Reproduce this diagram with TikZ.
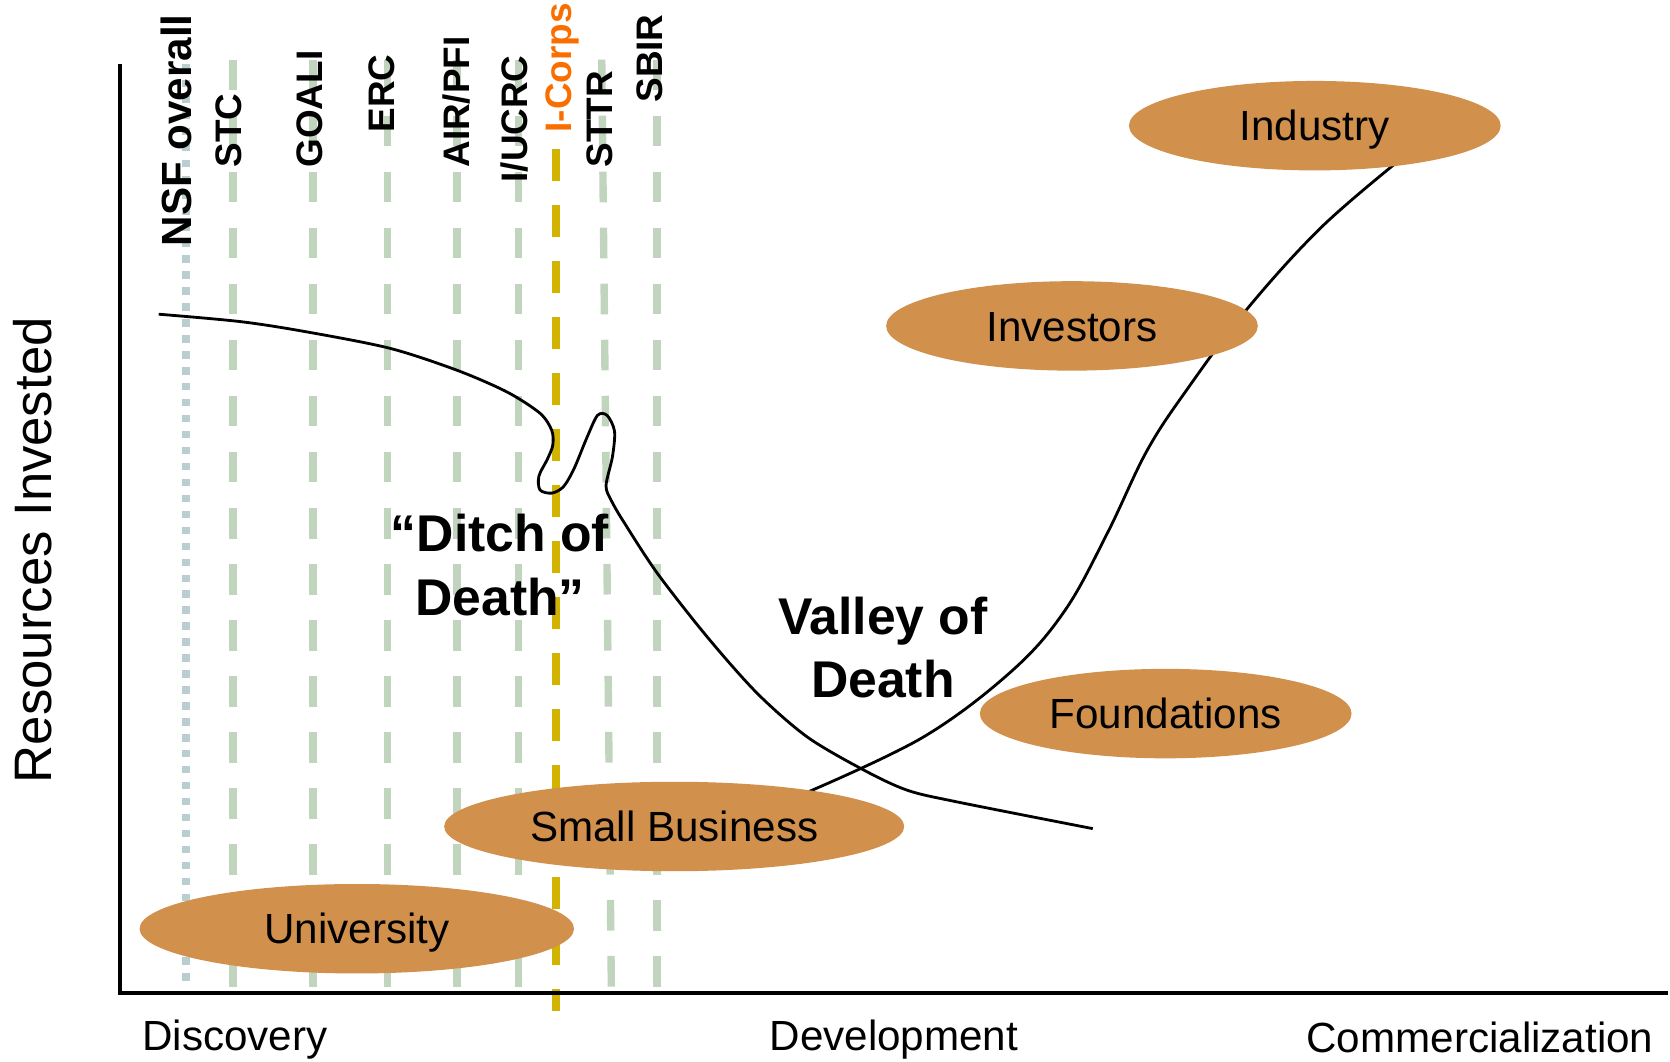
\documentclass[tikz,border=0pt]{standalone}
\usepackage{fontspec}
\setmainfont{Liberation Sans}
\usetikzlibrary{shapes.geometric}
\definecolor{ochre}{RGB}{209,145,76}
\definecolor{sage}{RGB}{192,212,190}
\definecolor{mist}{RGB}{185,206,208}
\definecolor{mustard}{RGB}{210,180,0}
\definecolor{icorps}{RGB}{250,110,0}
\begin{document}
\begin{tikzpicture}[x=0.0106505cm, y=-0.0106505cm,
  axisline/.style={line width=1.15pt, line join=miter},
  guide/.style={draw=sage, line width=2.1pt, dash pattern=on 8.73pt off 7.21pt},
  nsfguide/.style={draw=mist, line width=2.2pt, dash pattern=on 2.12pt off 2.42pt},
  icguide/.style={draw=mustard, line width=2.3pt, dash pattern=on 9.09pt off 6.85pt},
  prog/.style={rotate=90, anchor=base west, inner sep=0pt, font=\fontsize{10.5}{12}\selectfont\bfseries},
  blob/.style={ellipse, fill=ochre, minimum height=0.8946cm, inner sep=0pt, text height=8.6pt, text depth=0pt, font=\fontsize{12}{14}\selectfont},
  stage/.style={anchor=base west, inner sep=0pt, font=\fontsize{12}{14}\selectfont},
  death/.style={align=center, anchor=base, inner sep=0pt, font=\fontsize{14.7}{18.1}\selectfont\bfseries},
  curve/.style={line width=0.8pt, black}
]
\useasboundingbox (0,0) rectangle (1568,996.2);

% guide lines
\draw[nsfguide] (174.4,60) -- (174.4,928);
\draw[guide] (218.6,56) -- (218.6,927);
\draw[guide] (294,56) -- (294,927);
\draw[guide] (364,56) -- (364,927);
\draw[guide] (429,56) -- (429,927);
\draw[guide] (487,56) -- (487,927);
\draw[guide] (565,56) -- (574,927);
\draw[guide] (617,56) -- (617,927);
\draw[icguide] (522.4,140) -- (522.4,949);

% axes
\coordinate (ytop) at (113,60);
\coordinate (origin) at (113,932);
\coordinate (xend) at (1566,932);
\draw[axisline] (ytop) -- (origin) -- (xend);

% S-curve (behind ellipses)
\coordinate (s0) at (760,743);
\coordinate (s1) at (1312,152);
\draw[curve] plot[smooth, tension=0.6] coordinates {(s0) (867,692) (950,630) (1000,573) (1040,500) (1077,423) (1115,365) (1171,290) (1240,214) (s1)};

% ellipses
\node[blob, minimum width=3.717cm] (industry) at (1234.5,118) {Industry};
\node[blob, minimum width=3.717cm] (investors) at (1006.5,306) {Investors};
\node[blob, minimum width=3.717cm] (foundations) at (1094.5,670) {Foundations};
\node[blob, minimum width=4.601cm] (smallbiz) at (633,776) {Small Business};
\node[blob, minimum width=4.345cm] (university) at (335,872) {University};

% program labels
\node[prog, font=\fontsize{12}{14}\selectfont\bfseries] (nsf) at (180,232) {NSF overall};
\node[prog] (stc) at (226.4,158) {STC};
\node[prog] (goali) at (302.4,158) {GOALI};
\node[prog] (erc) at (370.4,125) {ERC};
\node[prog] (air) at (440.4,158) {AIR/PFI};
\node[prog] (iucrc) at (495.4,172) {I/UCRC};
\node[prog, text=icorps] (icorps) at (536.4,125) {I-Corps};
\node[prog] (sttr) at (575.4,158) {STTR};
\node[prog] (sbir) at (622.4,97) {SBIR};

% axis labels
\node[rotate=90, anchor=base west, inner sep=0pt, font=\fontsize{15}{17}\selectfont] (yl) at (48.6,736) {Resources Invested};
\node[stage] (disc) at (133,986.5) {Discovery};
\node[stage] (dev) at (722,986.5) {Development};
\node[stage] (comm) at (1226,988) {Commercialization};

% death labels
\node[death] (ditch) at (469.5,578) {“Ditch of\\Death”};
\node[death] (valley) at (829,655) {Valley of\\Death};

% declining curve with ditch
\coordinate (c0) at (149,295);
\coordinate (c1) at (1026,778);
\draw[curve] plot[smooth, tension=0.5] coordinates {(c0) (226,302) (288,311.6) (366,327) (429,347.6) (476,368) (507,388) (518,404) (519,418) (514,431) (506,447) (507,460) (518,463) (529,457) (539,440) (551,411) (561,390) (570,390) (577,405) (575,429) (569,456) (574,470) (585,489) (617,538) (664,598) (711,651) (758,692) (811,723) (852,742) (899,753) (c1)};
\end{tikzpicture}
\end{document}
